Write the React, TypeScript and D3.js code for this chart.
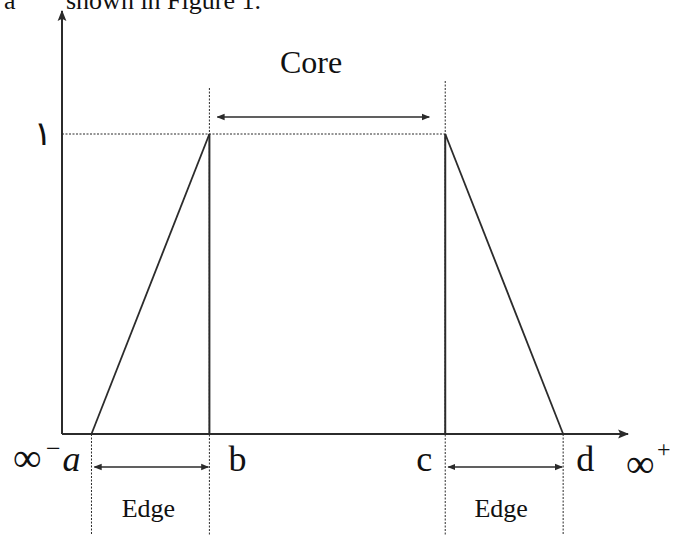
import React from 'react';
import * as d3 from 'd3';

// trapezoidal membership function: breakpoints and degrees
const breakLabels = ['a', 'b', 'c', 'd'];
const breakValues = [1, 2, 4, 5];
const membership = [0, 1, 1, 0];
const yTickLabels = ['١'];
const yTickValues = [1];
const spanLabels = ['Core', 'Edge', 'Edge'];

const W = 673;
const H = 535;

const App = () => {
  const x = d3.scaleLinear().domain([0.75, 5.55]).range([62, 628]);
  const y = d3.scaleLinear().domain([0, 1.41]).range([434, 11]);

  const pts: [number, number][] = breakValues.map((v, i) => [v, membership[i]]);
  const line = d3.line<[number, number]>()
    .x(d => x(d[0]))
    .y(d => y(d[1]));

  const [a, b, c, d] = breakValues;
  const ink = '#2b2b2b';
  const font = '"Liberation Serif", "Times New Roman", serif';

  return (
    <svg width={W} height={H} style={{ position: 'absolute', left: 0, top: 0, background: '#fff' }}>
      <defs>
        <marker id="arr" viewBox="0 0 10 10" refX="9" refY="5" markerWidth="8" markerHeight="8"
          orient="auto-start-reverse" markerUnits="userSpaceOnUse">
          <path d="M0,1 L10,5 L0,9 Z" fill={ink} />
        </marker>
        <marker id="axarr" viewBox="0 0 10 10" refX="9" refY="5" markerWidth="11" markerHeight="11"
          orient="auto" markerUnits="userSpaceOnUse">
          <path d="M0,1 L10,5 L0,9 L2,5 Z" fill={ink} />
        </marker>
      </defs>

      {/* cropped caption text at the top */}
      <text x={4} y={9} fontFamily={font} fontSize={26} fill="#111">a</text>
      <text x={66} y={9} fontFamily={font} fontSize={26} fill="#111">shown in Figure 1.</text>

      {/* dotted guides */}
      <g stroke={ink} strokeWidth={1} strokeDasharray="2,1.5" fill="none">
        {yTickValues.map(v => (
          <line key={'h' + v} x1={x.range()[0]} x2={x(c)} y1={y(v)} y2={y(v)} />
        ))}
        <line x1={x(b)} x2={x(b)} y1={88} y2={H} />
        <line x1={x(c)} x2={x(c)} y1={81} y2={H} />
        <line x1={x(a)} x2={x(a)} y1={y(0)} y2={H} />
        <line x1={x(d)} x2={x(d)} y1={y(0)} y2={H} />
      </g>

      {/* axes */}
      <line x1={x.range()[0]} x2={x.range()[0]} y1={y(0)} y2={y.range()[1]} stroke={ink} strokeWidth={2} markerEnd="url(#axarr)" />
      <line x1={x.range()[0]} x2={x.range()[1]} y1={y(0)} y2={y(0)} stroke={ink} strokeWidth={2} markerEnd="url(#axarr)" />

      {/* membership trapezoid */}
      <path d={line(pts.slice(0, 2)) || ''} stroke={ink} strokeWidth={1.8} fill="none" />
      <path d={line(pts.slice(2, 4)) || ''} stroke={ink} strokeWidth={1.8} fill="none" />
      <line x1={x(b)} x2={x(b)} y1={y(1)} y2={y(0)} stroke={ink} strokeWidth={2} />
      <line x1={x(c)} x2={x(c)} y1={y(1)} y2={y(0)} stroke={ink} strokeWidth={2} />

      {/* span arrows */}
      <line x1={x(b) + 8} x2={x(c) - 16} y1={117} y2={117} stroke={ink} strokeWidth={1.6}
        markerStart="url(#arr)" markerEnd="url(#arr)" />
      <line x1={x(a) + 3} x2={x(b) - 1} y1={467} y2={467} stroke={ink} strokeWidth={1.6}
        markerStart="url(#arr)" markerEnd="url(#arr)" />
      <line x1={x(c) + 3} x2={x(d) - 1} y1={467} y2={467} stroke={ink} strokeWidth={1.6}
        markerStart="url(#arr)" markerEnd="url(#arr)" />

      <text x={311} y={73} textAnchor="middle" fontFamily={font} fontSize={32} fill="#111">{spanLabels[0]}</text>
      <text x={(x(a) + x(b)) / 2 - 2} y={517} textAnchor="middle" fontFamily={font} fontSize={26} fill="#111">{spanLabels[1]}</text>
      <text x={(x(c) + x(d)) / 2 - 3} y={517} textAnchor="middle" fontFamily={font} fontSize={26} fill="#111">{spanLabels[2]}</text>

      {/* y tick */}
      {yTickValues.map((v, i) => (
        <text key={v} x={43} y={y(v) + 11} textAnchor="middle" fontFamily='"DejaVu Sans", sans-serif' fontSize={34} fill="#111">{yTickLabels[i]}</text>
      ))}

      {/* x breakpoint labels */}
      <text x={x(a) - 20} y={471} textAnchor="middle" fontFamily={font} fontSize={36} fontStyle="italic" fill="#111">{breakLabels[0]}</text>
      <text x={x(b) + 28} y={471} textAnchor="middle" fontFamily={font} fontSize={36} fill="#111">{breakLabels[1]}</text>
      <text x={x(c) - 21} y={471} textAnchor="middle" fontFamily={font} fontSize={36} fill="#111">{breakLabels[2]}</text>
      <text x={x(d) + 22} y={471} textAnchor="middle" fontFamily={font} fontSize={36} fill="#111">{breakLabels[3]}</text>

      {/* infinity ends */}
      <text x={13} y={471} fontFamily={font} fontSize={40} fill="#111">∞</text>
      <text x={46} y={457} fontFamily={font} fontSize={26} fill="#111">−</text>
      <text x={626} y={477} fontFamily={font} fontSize={40} fill="#111">∞</text>
      <text x={657} y={457} fontFamily={font} fontSize={24} fill="#111">+</text>
    </svg>
  );
};

export default App;
